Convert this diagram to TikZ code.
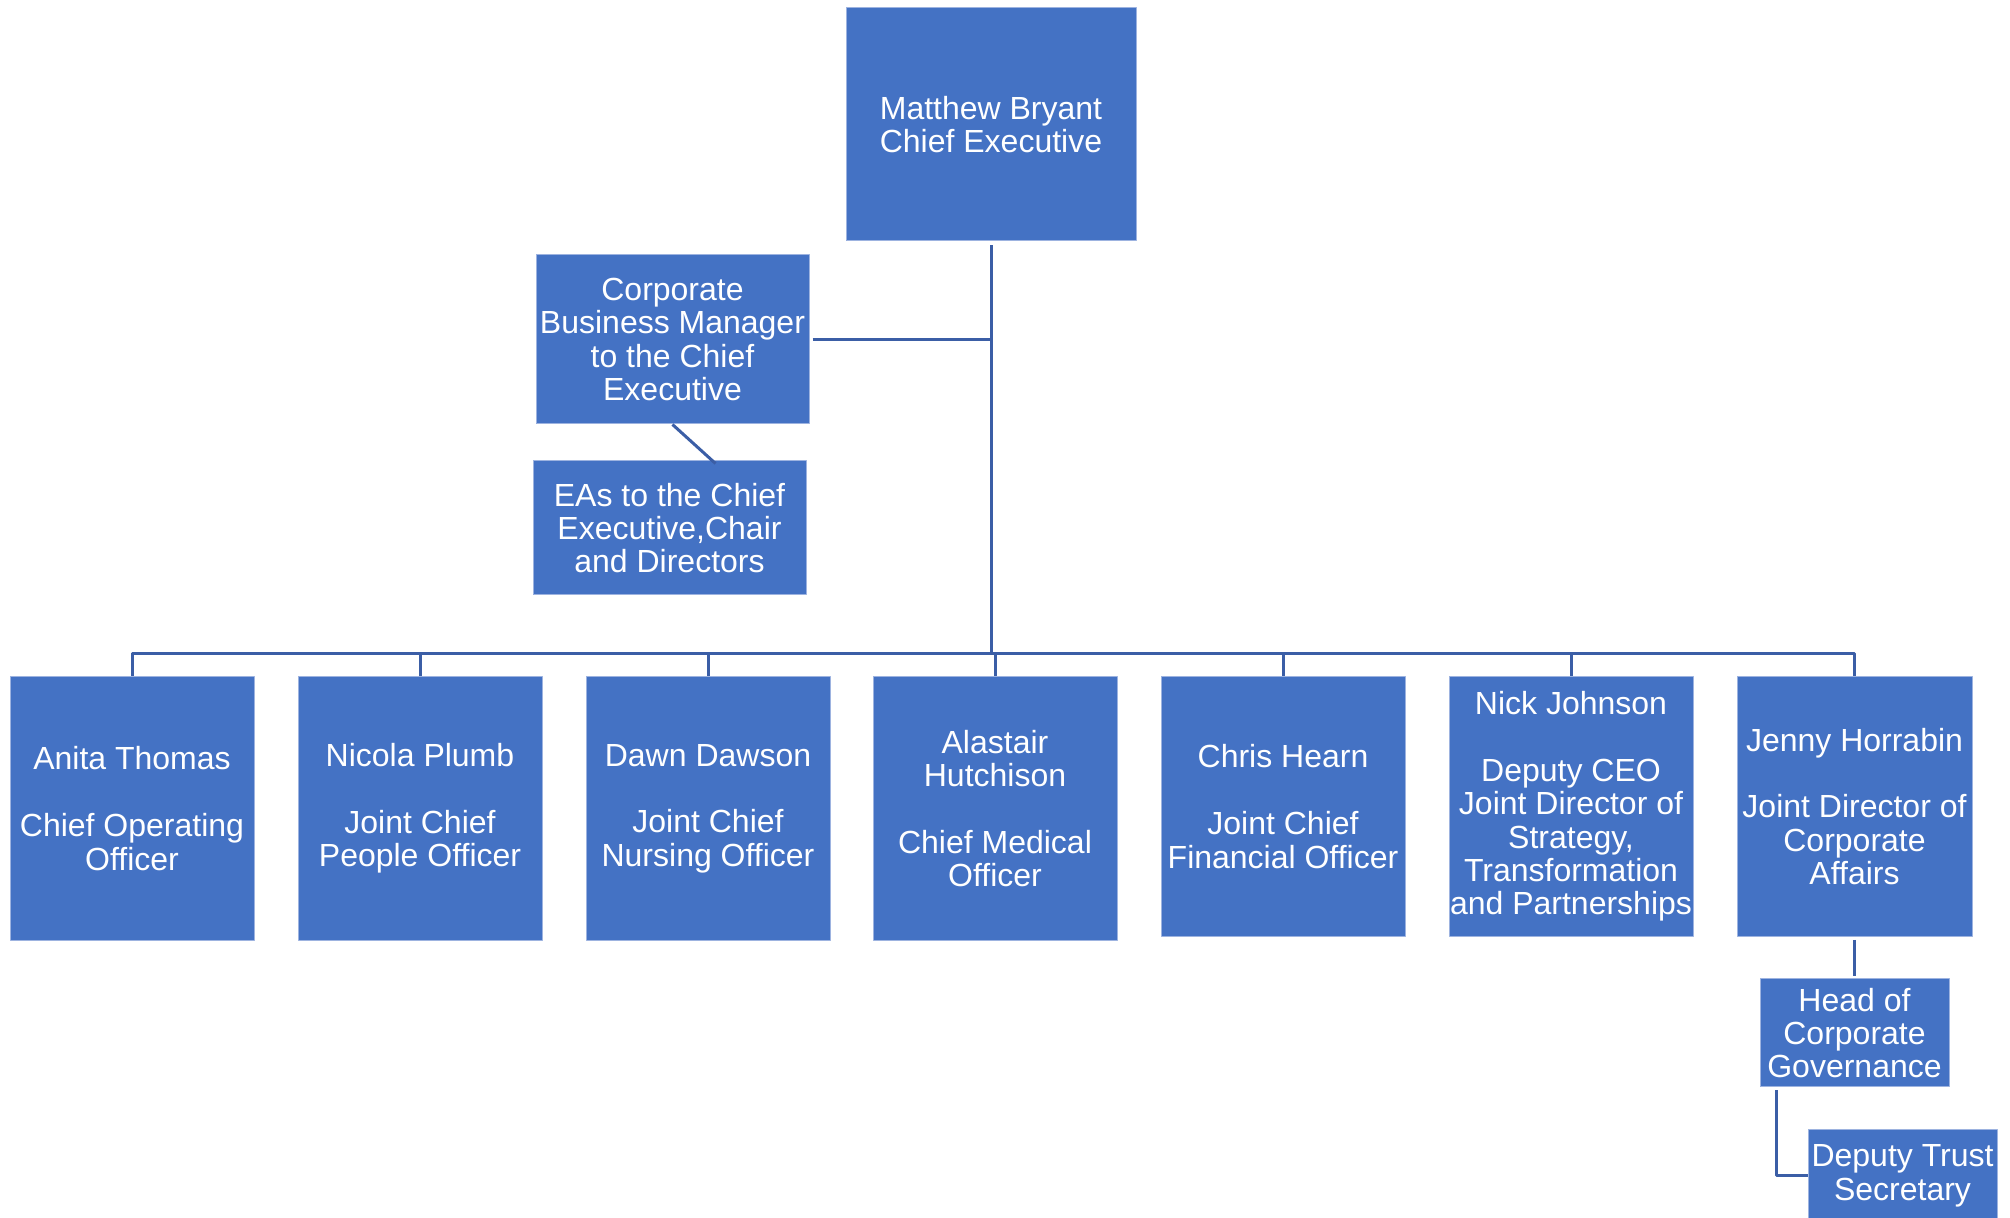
\documentclass[tikz,border=0pt]{standalone}
\usepackage{fontspec}
\setmainfont{Liberation Sans}
\definecolor{boxblue}{HTML}{4472C4}
\definecolor{boxedge}{HTML}{9DB3E0}
\definecolor{linkblue}{HTML}{3B5EA6}
\begin{document}
\begin{tikzpicture}[x=0.5pt,y=-0.5pt,line join=round,
	font=\fontsize{16}{16.7}\selectfont,
	box/.style={fill=boxblue,draw=boxedge,line width=0.5pt,text=white,align=center,inner sep=0pt},
	link/.style={draw=linkblue,line width=1.5pt}]
	\useasboundingbox (0,0) rectangle (2010,1218);
	\coordinate (bus) at (0,654);
	% top of the chart
	\node[box,minimum width=145pt,minimum height=116.5pt] (ceo) at (991,124.5) {Matthew Bryant\\Chief Executive};
	\node[box,minimum width=136.5pt,minimum height=84.5pt] (cbm) at (672.5,339.5) {Corporate\\Business Manager\\to the Chief\\Executive};
	\node[box,minimum width=136.5pt,minimum height=67pt] (eas) at (669.5,528) {EAs to the Chief\\Executive,Chair\\and Directors};
	% directors
	\foreach \n/\x/\w/\h/\t in {
		dA/132/122pt/132pt/{Anita Thomas\\[\baselineskip]Chief Operating\\Officer},
		dB/420/122pt/132pt/{Nicola Plumb\\[\baselineskip]Joint Chief\\People Officer},
		dC/708/122pt/132pt/{Dawn Dawson\\[\baselineskip]Joint Chief\\Nursing Officer},
		dD/995/122pt/132pt/{Alastair\\Hutchison\\[\baselineskip]Chief Medical\\Officer},
		dE/1283/122pt/130pt/{Chris Hearn\\[\baselineskip]Joint Chief\\Financial Officer},
		dF/1571/122pt/130pt/{Nick Johnson\\[\baselineskip]Deputy CEO\\Joint Director of\\Strategy,\\Transformation\\and Partnerships},
		dG/1854.5/117.5pt/130pt/{Jenny Horrabin\\[\baselineskip]Joint Director of\\Corporate\\Affairs}}
		\node[box,anchor=north,minimum width=\w,minimum height=\h] (\n) at (\x,676) {\t};
	\node[box,minimum width=94.5pt,minimum height=54pt] (hcg) at (1854.5,1033) {Head of\\Corporate\\Governance};
	\node[box,minimum width=94.5pt,minimum height=46pt] (dts) at (1902.5,1176) {Deputy Trust\\Secretary};
	% connectors
	\draw[link,shorten <=2pt] (ceo.south) -- (ceo.south |- bus);
	\draw[link,shorten <=1.5pt] (cbm.east) -- (cbm.east -| ceo.south);
	\draw[link] (cbm.south) -- ([xshift=23pt,yshift=-1.5pt]eas.north);
	\draw[link] (dA.north) |- (bus -| dG.north) -- (dG.north);
	\foreach \n in {dB,dC,dD,dE,dF}
		\draw[link] (\n.north) -- (\n.north |- bus);
	\draw[link,shorten <=1.5pt,shorten >=1pt] (dG.south) -- (hcg.north);
	\draw[link,shorten <=1.5pt] ([xshift=8.5pt]hcg.south west) |- (dts.west);
\end{tikzpicture}
\end{document}
